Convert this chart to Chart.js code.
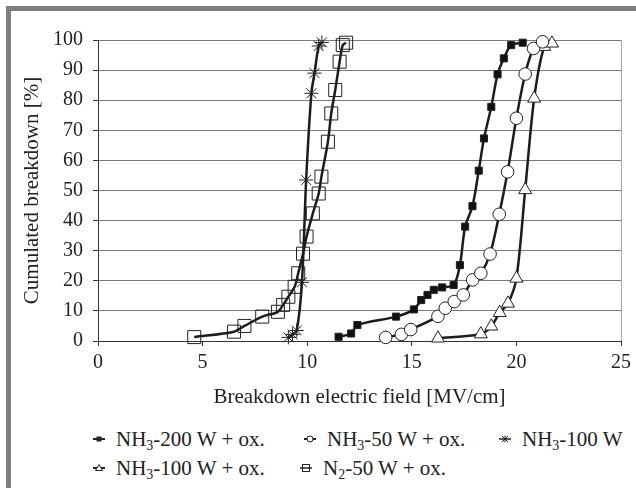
<!DOCTYPE html>
<html>
<head>
<meta charset="utf-8">
<script src="https://cdn.jsdelivr.net/npm/chart.js@4.4.1/dist/chart.umd.min.js"></script>
<style>
    body { margin: 0; background: #fff; font-family: "Liberation Serif", Tinos, "Times New Roman", "DejaVu Serif", serif; }
    #frame { position: absolute; left: 6px; top: 6px; width: 630px; height: 482px; box-sizing: border-box;
             border-top: 5px solid #7f7f7f; border-left: 5px solid #7f7f7f; }
    #wrap { position: absolute; left: 0; top: 0; width: 636px; height: 410px; }
    .leg { position: absolute; font-size: 21px; line-height: 24px; color: #222; white-space: nowrap; }
    .leg svg { position: absolute; left: -24px; top: 6px; }
    sub { font-size: 14px; vertical-align: -4px; line-height: 0; }
</style>
</head>
<body>
<div id="frame"></div>
<div id="wrap"><canvas id="chart" width="636" height="410"></canvas></div>

<div class="leg" style="left:116px; top:427px;">
    <svg width="14" height="12"><line x1="1" y1="6" x2="13" y2="6" stroke="#222" stroke-width="2"/><rect x="4.5" y="3.5" width="5" height="5" fill="#222"/></svg>
    NH<sub>3</sub>-200 W + ox.</div>
<div class="leg" style="left:327px; top:427px;">
    <svg width="14" height="12"><line x1="1" y1="6" x2="13" y2="6" stroke="#222" stroke-width="2"/><circle cx="7" cy="6" r="3" fill="#fff" stroke="#222" stroke-width="1"/></svg>
    NH<sub>3</sub>-50 W + ox.</div>
<div class="leg" style="left:522px; top:427px;">
    <svg width="14" height="12"><line x1="1" y1="6" x2="13" y2="6" stroke="#222" stroke-width="1.5"/><path d="M4 3 L10 9 M10 3 L4 9 M7 2.5 L7 9.5" stroke="#222" stroke-width="1"/></svg>
    NH<sub>3</sub>-100 W</div>
<div class="leg" style="left:116px; top:456px;">
    <svg width="14" height="12"><line x1="1" y1="6" x2="13" y2="6" stroke="#222" stroke-width="2"/><path d="M7 2.5 L10.5 8.5 L3.5 8.5 Z" fill="#fff" stroke="#222" stroke-width="1"/></svg>
    NH<sub>3</sub>-100 W + ox.</div>
<div class="leg" style="left:323px; top:456px;">
    <svg width="14" height="12"><line x1="1" y1="6" x2="13" y2="6" stroke="#222" stroke-width="1.5"/><rect x="3.5" y="2.5" width="7" height="7" fill="none" stroke="#222" stroke-width="1"/></svg>
    N<sub>2</sub>-50 W + ox.</div>

<script>
// breakdown field [MV/cm] and cumulated breakdown [%]
const nh3_200_x = [11.5, 12.1, 12.4, 14.25, 15.1, 15.45, 15.75, 16.05, 16.45, 17.0, 17.3, 17.55, 17.9, 18.2, 18.45, 18.8, 19.1, 19.4, 19.75, 20.3];
const nh3_200_y = [1.4, 2.5, 5.3, 8.1, 10.5, 13.6, 15.3, 17, 17.8, 18.6, 25.2, 38, 44.8, 56.6, 67.3, 77.8, 88.6, 93.9, 98.3, 99.1];

const nh3_50_x = [13.75, 14.5, 14.95, 16.25, 16.6, 17.03, 17.46, 17.91, 18.3, 18.74, 19.18, 19.58, 20.0, 20.42, 20.82, 21.25];
const nh3_50_y = [1.2, 2.2, 3.8, 8.2, 10.9, 13.1, 15.3, 20.3, 22.5, 28.9, 42.1, 56.2, 74, 88.7, 97.2, 99.4];

const nh3_100_x = [9.1, 9.3, 9.5, 9.75, 9.95, 10.2, 10.35, 10.55, 10.7];
const nh3_100_y = [1.2, 2.2, 3.5, 19.5, 53.5, 82.3, 89, 98, 99.2];

const nh3_100ox_x = [16.25, 18.3, 18.8, 19.2, 19.6, 20.0, 20.42, 20.85, 21.33, 21.7];
const nh3_100ox_y = [0.9, 2.3, 4.9, 9.4, 12.5, 20.8, 50.2, 80.6, 97.8, 98.9];

const n2_50_x = [4.6, 6.5, 7.0, 7.85, 8.6, 8.85, 9.1, 9.4, 9.57, 9.8, 9.97, 10.27, 10.55, 10.68, 10.99, 11.15, 11.34, 11.55, 11.7, 11.86];
const n2_50_y = [1.3, 3.1, 5, 8.1, 9.7, 12, 14.7, 18, 22.5, 29, 34.7, 42.4, 49, 54.6, 66.2, 75.6, 83.4, 92.8, 98.3, 99.1];

const xTicks = [0, 5, 10, 15, 20, 25];
const yTicks = [0, 10, 20, 30, 40, 50, 60, 70, 80, 90, 100];

function pts(xs, ys) {
    return xs.map((x, i) => ({ x: x, y: ys[i] }));
}

function series(label, xs, ys, style, radius, fill) {
    return {
        label: label,
        data: pts(xs, ys),
        showLine: true,
        borderColor: '#1c1c1c',
        borderWidth: 2.5,
        tension: 0.3,
        pointStyle: style,
        pointRadius: radius,
        pointBorderWidth: 1,
        pointBorderColor: '#222',
        pointBackgroundColor: fill,
        clip: false
    };
}

const family = "'Liberation Serif', Tinos, 'Times New Roman', 'DejaVu Serif', serif";
const tickFont = { family: family, size: 20 };
const titleFont = { family: family, size: 21 };

new Chart(document.getElementById('chart').getContext('2d'), {
    type: 'scatter',
    data: {
        datasets: [
            series('NH3-200 W + ox.', nh3_200_x, nh3_200_y, 'rect', 5, '#111'),
            series('NH3-50 W + ox.', nh3_50_x, nh3_50_y, 'circle', 6.3, '#fff'),
            series('NH3-100 W', nh3_100_x, nh3_100_y, 'star', 7, '#fff'),
            series('NH3-100 W + ox.', nh3_100ox_x, nh3_100ox_y, 'triangle', 7.5, '#fff'),
            series('N2-50 W + ox.', n2_50_x, n2_50_y, 'rect', 9.2, 'rgba(255,255,255,0)')
        ]
    },
    options: {
        responsive: false,
        animation: false,
        layout: { padding: { top: 40, right: 14, left: 0, bottom: 0 } },
        plugins: { legend: { display: false }, tooltip: { enabled: false } },
        scales: {
            x: {
                type: 'linear',
                min: 0,
                max: 25,
                afterBuildTicks: s => { s.ticks = xTicks.map(v => ({ value: v })); },
                afterFit: s => { s.height = 69; },
                ticks: { font: tickFont, color: '#222', padding: 5 },
                grid: {
                    color: c => (c.tick && c.tick.value === 25) ? '#a8a8a8' : 'rgba(0,0,0,0)',
                    tickColor: '#333',
                    tickLength: 5
                },
                border: { color: '#333', width: 1 },
                title: { display: true, text: 'Breakdown electric field [MV/cm]', font: titleFont, color: '#222', padding: { top: 11, bottom: 0 } }
            },
            y: {
                min: 0,
                max: 100,
                afterBuildTicks: s => { s.ticks = yTicks.map(v => ({ value: v })); },
                ticks: { font: tickFont, color: '#222', padding: 10 },
                grid: { color: '#7a7a7a', tickColor: '#333', tickLength: 5 },
                border: { color: '#333', width: 1 },
                title: { display: true, text: 'Cumulated breakdown [%]', font: titleFont, color: '#222', padding: { top: 20, bottom: 0 } },
                afterFit: s => { s.width = 98; }
            }
        }
    }
});
</script>
</body>
</html>
